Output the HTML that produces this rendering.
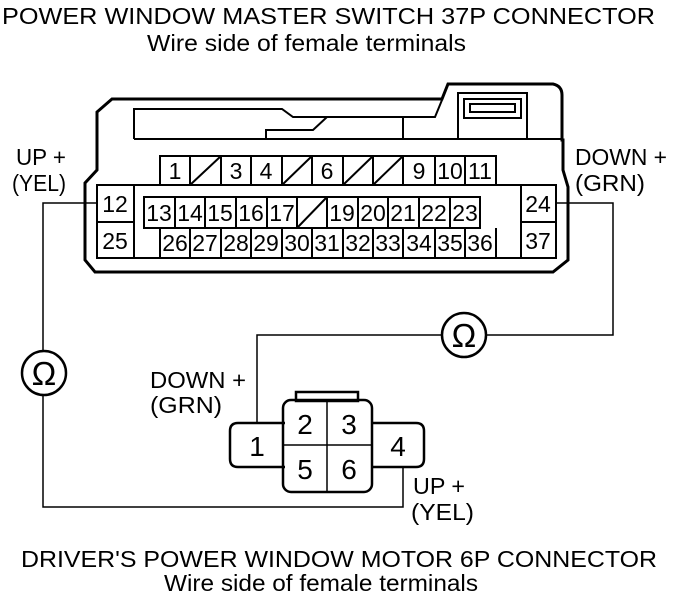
<!DOCTYPE html>
<html><head><style>
body{margin:0;background:#fff;}
svg{display:block;}
text{font-family:"Liberation Sans",Arial,sans-serif;fill:#000;}
</style></head><body>
<svg width="678" height="598" viewBox="0 0 678 598">
<g fill="none" stroke="#000">
<path d="M112,99 L442,99 L448,84 L553,84 Q562,86 562,95 L562,140 L563,140 L563,170 L568,187 L568,260 L553,272 L95,272 L85,260 L85,183 L97,170 L97,112 Z" stroke-width="3"/>
<path d="M134,139 L134,109 L282,109 L293,117 L435,117 L442,100" stroke-width="2"/>
<path d="M134,139 L563,139" stroke-width="2"/>
<path d="M266,139 L266,130 L313,130 L327,117 M403,117 L403,139" stroke-width="2"/>
<rect x="458" y="93" width="69" height="46" stroke-width="2"/>
<rect x="464" y="99" width="57" height="19" stroke-width="2"/>
<rect x="470" y="104" width="45" height="8" stroke-width="2"/>
<g stroke-width="2">
<path d="M160,185 L160,156 L496,156 L496,185"/>
<path d="M190,156V185M221,156V185M251,156V185M282,156V185M312,156V185M343,156V185M373,156V185M403,156V185M435,156V185M465,156V185"/>
<path d="M190,185L221,156M282,185L312,156M343,185L373,156M373,185L403,156"/>
<rect x="97" y="185" width="459" height="73"/>
<path d="M134,185V258M97,222H134M521,185V258M521,222H556"/>
<rect x="144" y="197" width="336" height="31"/>
<path d="M175,197V228M205,197V228M236,197V228M267,197V228M297,197V228M327,197V228M358,197V228M388,197V228M419,197V228M450,197V228"/>
<path d="M297,228L327,197"/>
<path d="M160,228V258M496,228V258"/>
<path d="M190,228V258M221,228V258M251,228V258M282,228V258M312,228V258M343,228V258M373,228V258M403,228V258M435,228V258M465,228V258"/>
</g>
<g stroke-width="1.5">
<path d="M97,203H43V351M43,395V507H403V467"/>
<path d="M556,203H613V335H486M442,335H257V423"/>
</g>
<circle cx="44" cy="373" r="22" stroke-width="2.5"/>
<circle cx="464" cy="335" r="22" stroke-width="2.5"/>
<g stroke-width="2.5">
<rect x="296" y="392" width="62" height="9"/>
<path d="M285,423H238Q230,423 230,431V459Q230,467 238,467H285"/>
<path d="M372,423H416Q424,423 424,431V459Q424,467 416,467H372"/>
<rect x="283" y="400" width="89" height="92" rx="8"/>
</g>
<path d="M327,400V492M283,445H372" stroke-width="1.5"/>
</g>
<g font-size="23">
<text x="2" y="24" textLength="653" lengthAdjust="spacingAndGlyphs">POWER WINDOW MASTER SWITCH 37P CONNECTOR</text>
<text x="147" y="51" textLength="319" lengthAdjust="spacingAndGlyphs">Wire side of female terminals</text>
<text x="16" y="165" textLength="50" lengthAdjust="spacingAndGlyphs">UP +</text>
<text x="12" y="191" textLength="54" lengthAdjust="spacingAndGlyphs">(YEL)</text>
<text x="575" y="165" textLength="92" lengthAdjust="spacingAndGlyphs">DOWN +</text>
<text x="575" y="191" textLength="70" lengthAdjust="spacingAndGlyphs">(GRN)</text>
<text x="150" y="388" textLength="96" lengthAdjust="spacingAndGlyphs">DOWN +</text>
<text x="150" y="413" textLength="72" lengthAdjust="spacingAndGlyphs">(GRN)</text>
<text x="413" y="494" textLength="52" lengthAdjust="spacingAndGlyphs">UP +</text>
<text x="411" y="520" textLength="63" lengthAdjust="spacingAndGlyphs">(YEL)</text>
<text x="21" y="567" textLength="636" lengthAdjust="spacingAndGlyphs">DRIVER'S POWER WINDOW MOTOR 6P CONNECTOR</text>
<text x="164" y="591" textLength="314" lengthAdjust="spacingAndGlyphs">Wire side of female terminals</text>
<text x="44" y="385" font-size="33" text-anchor="middle">Ω</text>
<text x="464" y="347" font-size="33" text-anchor="middle">Ω</text>
</g>
<g font-size="23" text-anchor="middle">
<text x="175" y="179">1</text><text x="236" y="179">3</text><text x="266" y="179">4</text><text x="327" y="179">6</text><text x="419" y="179">9</text><text x="450" y="179">10</text><text x="480" y="179">11</text>
<text x="115" y="212">12</text><text x="115" y="249">25</text><text x="538" y="212">24</text><text x="538" y="249">37</text>
<text x="159" y="221">13</text><text x="190" y="221">14</text><text x="220" y="221">15</text><text x="251" y="221">16</text><text x="282" y="221">17</text><text x="342" y="221">19</text><text x="373" y="221">20</text><text x="403" y="221">21</text><text x="434" y="221">22</text><text x="465" y="221">23</text>
<text x="175" y="251">26</text><text x="205" y="251">27</text><text x="236" y="251">28</text><text x="266" y="251">29</text><text x="297" y="251">30</text><text x="327" y="251">31</text><text x="358" y="251">32</text><text x="388" y="251">33</text><text x="419" y="251">34</text><text x="450" y="251">35</text><text x="480" y="251">36</text>
</g>
<g font-size="28" text-anchor="middle">
<text x="257" y="456">1</text><text x="305" y="434">2</text><text x="349" y="434">3</text><text x="398" y="456">4</text><text x="305" y="479">5</text><text x="349" y="479">6</text>
</g>
</svg>
</body></html>
